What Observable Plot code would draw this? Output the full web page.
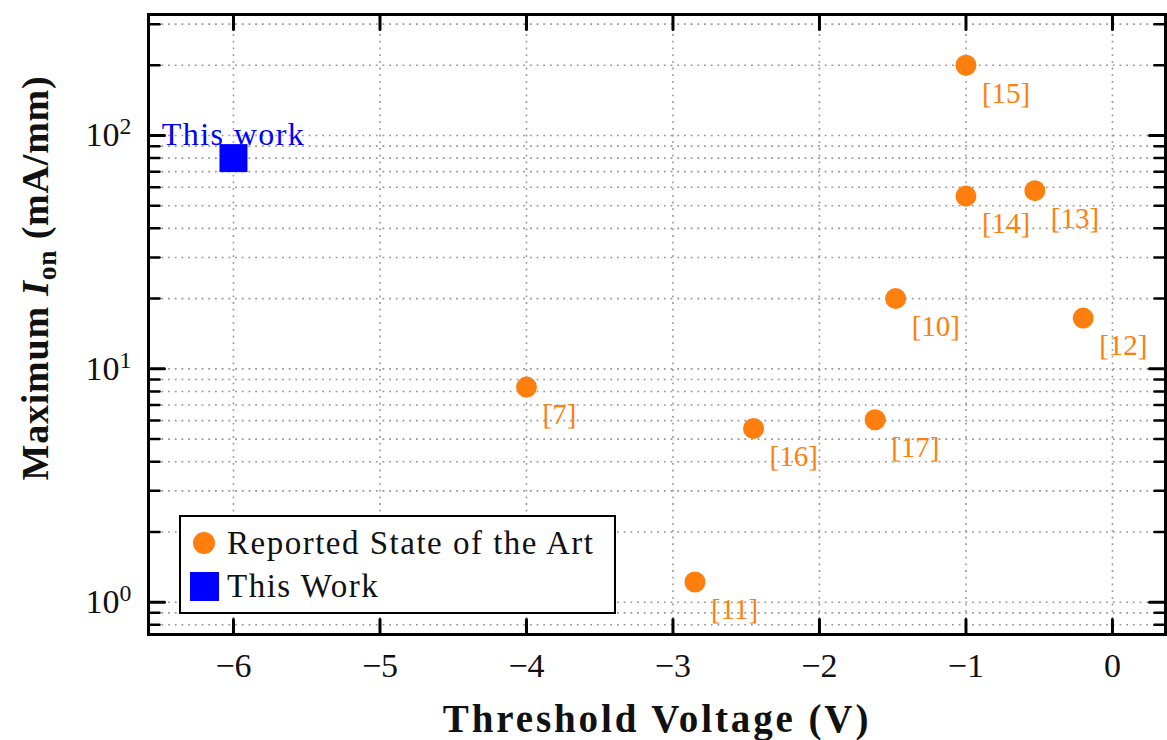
<!DOCTYPE html>
<html>
<head>
<meta charset="utf-8">
<script src="https://cdn.jsdelivr.net/npm/d3@7"></script>
<script src="https://cdn.jsdelivr.net/npm/@observablehq/plot@0.6"></script>
<style>
  body { margin: 0; background: #fff; }
  #wrap { position: relative; width: 1167px; height: 740px; font-family: "Liberation Serif", serif; }
  #legend { position: absolute; left: 179px; top: 515px; width: 433px; height: 95px;
            border: 2px solid #000; background: #fff; }
  .lg-text { position: absolute; left: 46px; font-size: 33px; letter-spacing: 1.5px; color: #111; white-space: nowrap; line-height: 40px; }
  .sw-circle { position: absolute; width: 22px; height: 22px; border-radius: 50%; }
  .sw-square { position: absolute; width: 29px; height: 29px; }
</style>
</head>
<body>
<div id="wrap"></div>
<script>
// ---- data ----
const refLabels = ["[15]", "[14]", "[13]", "[10]", "[12]", "[7]", "[16]", "[17]", "[11]"];
const refVth    = [-1.0, -1.0, -0.53, -1.48, -0.2, -4.0, -2.45, -1.62, -2.85];
const refIon    = [200, 55, 58, 20, 16.5, 8.35, 5.55, 6.05, 1.22];

const workLabel = ["This work"];
const workVth   = [-6];
const workIon   = [80];

const xTicks  = [-6, -5, -4, -3, -2, -1, 0];
const yMajor  = [1, 10, 100];
const yMinor  = [0.8, 0.9, 2, 3, 4, 5, 6, 7, 8, 9, 20, 30, 40, 50, 60, 70, 80, 90, 200, 300];

const legendLabels = ["Reported State of the Art", "This Work"];
const legendShapes = ["circle", "square"];

const xLabel = "Threshold Voltage (V)";
const yLabelParts = ["Maximum ", "I", "on", " (mA/mm)"];

const orange = "#ff7f0e";
const blue = "#0000ff";

// ---- tables ----
const sota = refLabels.map((r, i) => ({ref: r, x: refVth[i], y: refIon[i]}));
const ours = workLabel.map((l, i) => ({label: l, x: workVth[i], y: workIon[i]}));

const tickShape = { draw(ctx, l) { ctx.moveTo(0, 0); ctx.lineTo(0, -l); } };
const gridStyle = { stroke: "#8c8c8c", strokeOpacity: 0.9, strokeWidth: 1.6, strokeDasharray: "1.8,4.9" };
const minus = d => d < 0 ? "\u2212" + Math.abs(d) : String(d);

const chart = Plot.plot({
  width: 1167,
  height: 740,
  marginLeft: 148,
  marginRight: 2,
  marginTop: 14,
  marginBottom: 106,
  style: { fontFamily: "'Liberation Serif', serif", background: "white", color: "#111" },
  x: { domain: [-6.58, 0.362] },
  y: { type: "log", domain: [0.727, 330] },
  marks: [
    Plot.gridX({ ticks: xTicks, ...gridStyle }),
    Plot.gridY({ ticks: yMajor.concat(yMinor), ...gridStyle }),
    Plot.axisX({ ticks: xTicks, tickSize: 0, tickPadding: 18, fontSize: 34, tickFormat: minus, label: null }),
    Plot.axisY({ ticks: yMajor, tickSize: 0, tickPadding: 17, fontSize: 34,
                 tickFormat: d => "10^" + Math.round(Math.log10(d)), label: null }),
    // inward ticks: bottom / top (x majors)
    Plot.vector(xTicks, { x: d => d, frameAnchor: "bottom", rotate: 0, length: 15, anchor: "start",
                          shape: tickShape, stroke: "black", strokeWidth: 3 }),
    Plot.vector(xTicks, { x: d => d, frameAnchor: "top", rotate: 180, length: 15, anchor: "start",
                          shape: tickShape, stroke: "black", strokeWidth: 3 }),
    // inward ticks: left / right (y majors + minors)
    Plot.vector(yMajor, { y: d => d, frameAnchor: "left", rotate: 90, length: 16, anchor: "start",
                          shape: tickShape, stroke: "black", strokeWidth: 3 }),
    Plot.vector(yMinor, { y: d => d, frameAnchor: "left", rotate: 90, length: 11, anchor: "start",
                          shape: tickShape, stroke: "black", strokeWidth: 2.5 }),
    Plot.vector(yMajor, { y: d => d, frameAnchor: "right", rotate: -90, length: 16, anchor: "start",
                          shape: tickShape, stroke: "black", strokeWidth: 3 }),
    Plot.vector(yMinor, { y: d => d, frameAnchor: "right", rotate: -90, length: 11, anchor: "start",
                          shape: tickShape, stroke: "black", strokeWidth: 2.5 }),
    Plot.frame({ stroke: "black", strokeWidth: 3 }),
    // data
    Plot.dot(sota, { x: "x", y: "y", r: 10.5, fill: orange, stroke: "none" }),
    Plot.text(sota, { x: "x", y: "y", text: "ref", dx: 16, dy: 28, textAnchor: "start",
                      fill: orange, fontSize: 29 }),
    Plot.dot(ours, { x: "x", y: "y", symbol: "square", r: 15.8, fill: blue, stroke: "none" }),
    Plot.text(ours, { x: "x", y: "y", text: "label", dy: -23, fill: blue, fontSize: 32, className: "work-label" })
  ]
});

const wrap = document.getElementById("wrap");
wrap.appendChild(chart);

const svg = d3.select(chart);
svg.selectAll(".work-label text").style("letter-spacing", "1.4px");

// superscript y tick labels
svg.selectAll('g[aria-label="y-axis tick label"] text').each(function() {
  const t = d3.select(this);
  const s = t.text();
  const m = s.match(/^10\^(-?\d+)$/);
  if (!m) return;
  t.text("10");
  t.append("tspan").attr("dy", "-0.5em").attr("font-size", "0.7em").text(m[1]);
});

// axis titles
svg.append("text")
  .attr("x", 657).attr("y", 732)
  .attr("text-anchor", "middle")
  .attr("font-weight", "bold").attr("font-size", 39)
  .style("letter-spacing", "2.9px")
  .attr("fill", "#111")
  .text(xLabel);

const yl = svg.append("text")
  .attr("transform", "translate(48,278) rotate(-90)")
  .attr("text-anchor", "middle")
  .attr("font-weight", "bold").attr("font-size", 38)
  .style("letter-spacing", "0.8px")
  .attr("fill", "#111");
yl.append("tspan").text(yLabelParts[0]);
yl.append("tspan").attr("font-style", "italic").text(yLabelParts[1]);
yl.append("tspan").attr("font-size", "0.72em").attr("dy", "0.3em").text(yLabelParts[2]);
yl.append("tspan").attr("dy", "-0.216em").text(yLabelParts[3]);

// legend
const legend = document.createElement("div");
legend.id = "legend";
legendLabels.forEach((lab, i) => {
  const cy = 26 + 43 * i;
  const sw = document.createElement("div");
  if (legendShapes[i] === "circle") {
    sw.className = "sw-circle";
    sw.style.left = (23 - 11) + "px";
    sw.style.top = (cy - 11) + "px";
    sw.style.background = orange;
  } else {
    sw.className = "sw-square";
    sw.style.left = "9px";
    sw.style.top = (cy - 14.5) + "px";
    sw.style.background = blue;
  }
  legend.appendChild(sw);
  const tx = document.createElement("div");
  tx.className = "lg-text";
  tx.style.top = (cy - 20) + "px";
  tx.textContent = lab;
  legend.appendChild(tx);
});
wrap.appendChild(legend);
</script>
</body>
</html>
